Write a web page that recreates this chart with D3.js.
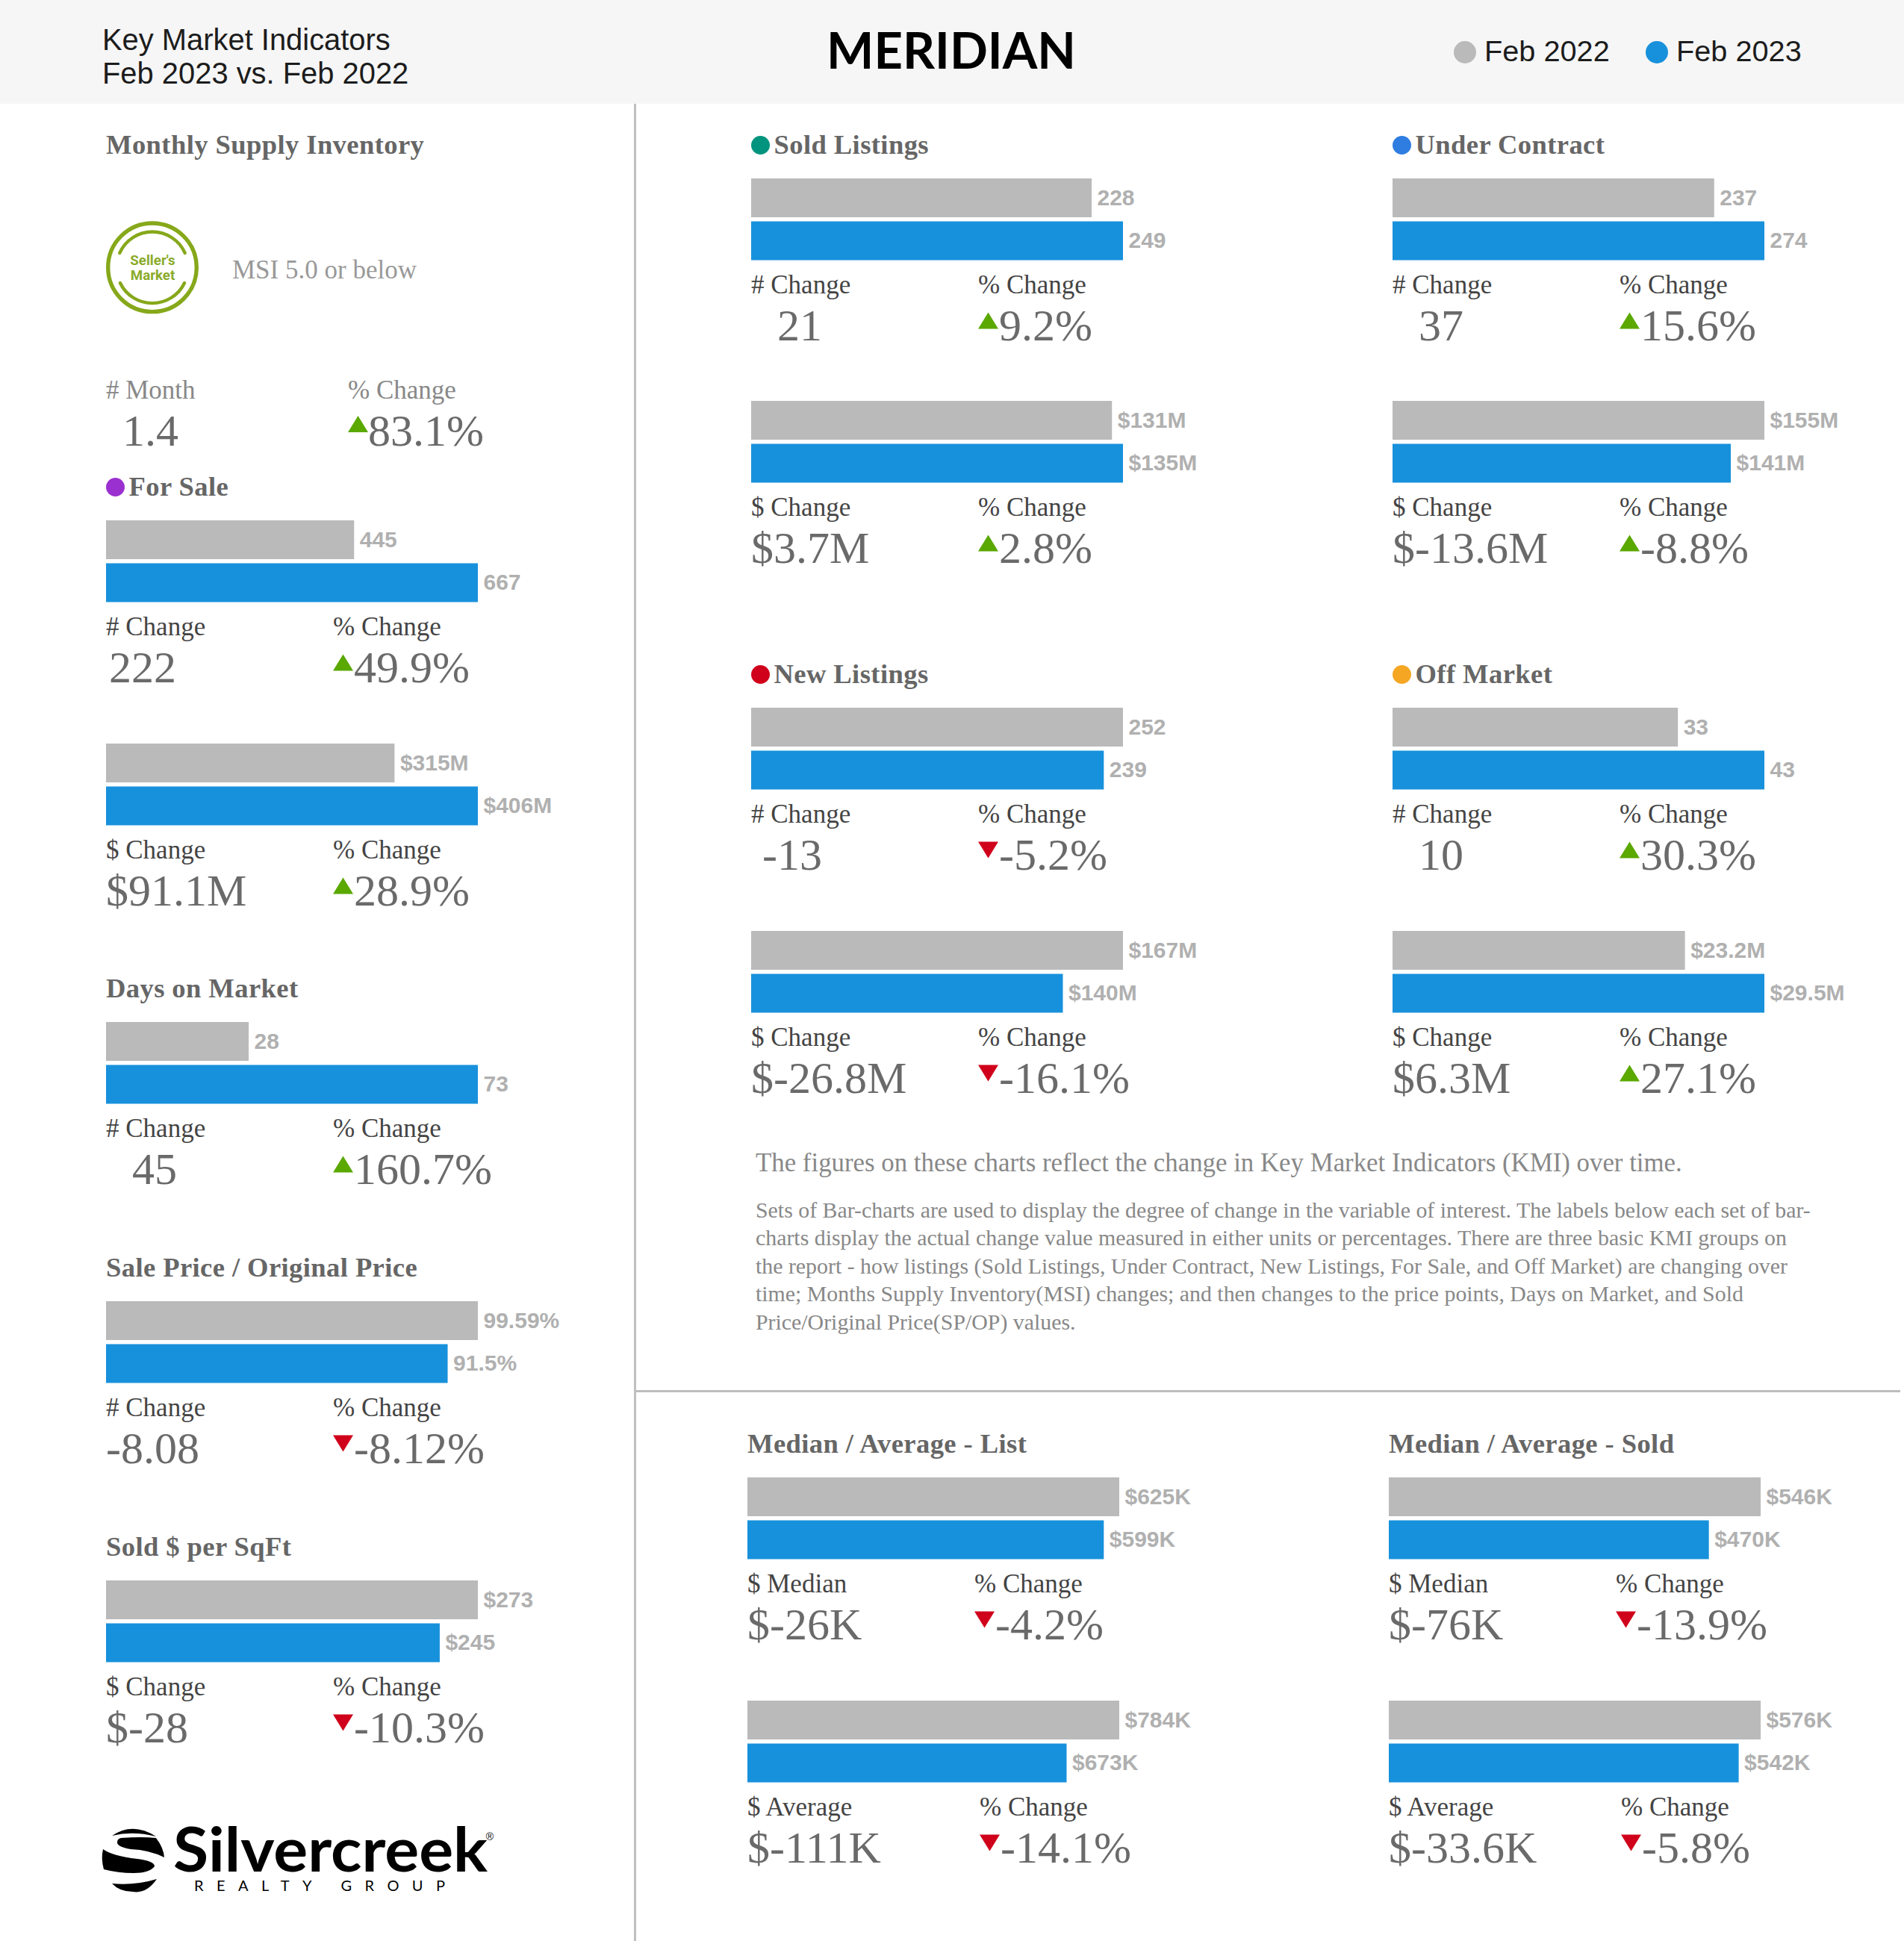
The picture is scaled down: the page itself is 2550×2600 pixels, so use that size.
<!DOCTYPE html>
<html><head><meta charset="utf-8">
<script src="https://cdn.jsdelivr.net/npm/d3@7"></script>
<style>html,body{margin:0;padding:0;background:#fff}svg{display:block}text{white-space:pre}</style>
</head><body><svg id="c" width="2550" height="2600"></svg>
<script>
// ---------- data ----------
const titles   = ["For Sale","","Days on Market","Sale Price / Original Price","Sold $ per SqFt","Sold Listings","","Under Contract","","New Listings","","Off Market","","Median / Average - List","","Median / Average - Sold",""];
const prior    = [445,315,28,99.59,273,228,131,237,155,252,167,33,23.2,625,784,546,576];
const current  = [667,406,73,91.5,245,249,135,274,141,239,140,43,29.5,599,673,470,542];
const priorLabels   = ["445","$315M","28","99.59%","$273","228","$131M","237","$155M","252","$167M","33","$23.2M","$625K","$784K","$546K","$576K"];
const currentLabels = ["667","$406M","73","91.5%","$245","249","$135M","274","$141M","239","$140M","43","$29.5M","$599K","$673K","$470K","$542K"];
const changeHeads  = ["# Change","$ Change","# Change","# Change","$ Change","# Change","$ Change","# Change","$ Change","# Change","$ Change","# Change","$ Change","$ Median","$ Average","$ Median","$ Average"];
const changeValues = ["222","$91.1M","45","-8.08","$-28","21","$3.7M","37","$-13.6M","-13","$-26.8M","10","$6.3M","$-26K","$-111K","$-76K","$-33.6K"];
const pctValues    = ["49.9%","28.9%","160.7%","-8.12%","-10.3%","9.2%","2.8%","15.6%","-8.8%","-5.2%","-16.1%","30.3%","27.1%","-4.2%","-14.1%","-13.9%","-5.8%"];
const arrowDirs    = ["up","up","up","down","down","up","up","up","up","down","down","up","up","down","down","down","down"];
const legendNames  = ["Feb 2022","Feb 2023"];
const headerLines  = ["Key Market Indicators","Feb 2023 vs. Feb 2022"];
const msi = {title:"Monthly Supply Inventory",badge:["Seller's","Market"],note:"MSI 5.0 or below",head:"# Month",value:"1.4",pctHead:"% Change",pct:"83.1%"};
const noteHead = "The figures on these charts reflect the change in Key Market Indicators (KMI) over time.";
const noteLines = ["Sets of Bar-charts are used to display the degree of change in the variable of interest. The labels below each set of bar-",
"charts display the actual change value measured in either units or percentages. There are three basic KMI groups on",
"the report - how listings (Sold Listings, Under Contract, New Listings, For Sale, and Off Market) are changing over",
"time; Months Supply Inventory(MSI) changes; and then changes to the price points, Days on Market, and Sold",
"Price/Original Price(SP/OP) values."];

// ---------- layout / style ----------
const panelX = [142,142,142,142,142,1006,1006,1865,1865,1006,1006,1865,1865,1001,1001,1860,1860];
const panelY = [697,996,1369,1743,2117,239,537,239,537,948,1247,948,1247,1979,2278,1979,2278];
const valueDx = [4,0,35,0,0,35,0,35,0,15,0,35,0,0,0,0,0];
const pctDx   = [304,304,304,304,304,304,304,304,304,304,304,304,304,304,311,304,311];
const dotColors = {"For Sale":"#9b30d0","Sold Listings":"#00947e","Under Contract":"#2f7de1","New Listings":"#d0021b","Off Market":"#f5a623"};
const GRAY="#bababa",BLUE="#1891dc",UP="#5aa800",DOWN="#d0021b";
const SERIF="'Liberation Serif'",SANS="'Liberation Sans'";
const BAR_MAX=498, BAR_BLOCK=109.5;

const svg=d3.select("#c");
const T=(x,y,s,size,fill,o={})=>svg.append("text").attr("x",x).attr("y",y).text(s)
  .attr("font-family",o.family||SERIF).attr("font-size",size).attr("fill",fill)
  .attr("font-weight",o.weight||"normal").attr("text-anchor",o.anchor||"start")
  .attr("letter-spacing",o.ls||null);
const tri=(x,y,dir)=>svg.append("path").attr("fill",dir==="up"?UP:DOWN)
  .attr("d",dir==="up"?`M${x},${y+22}L${x+13.5},${y}L${x+27},${y+22}Z`:`M${x},${y}L${x+27},${y}L${x+13.5},${y+22}Z`);

// header
svg.append("rect").attr("width",2550).attr("height",139).attr("fill","#f6f6f6");
headerLines.forEach((s,i)=>T(137,66.5+i*45,s,39.9,"#1c1c1c",{family:SANS}));
T(1274,92,"MERIDIAN",67,"#000",{family:"Lato",weight:"bold",anchor:"middle"});
const legX=[1962,2219];
legendNames.forEach((s,i)=>{
  svg.append("circle").attr("cx",legX[i]).attr("cy",70).attr("r",15).attr("fill",[GRAY,BLUE][i]);
  T(legX[i]+26,82,s,39.7,"#1c1c1c",{family:SANS});
});
// rules
svg.append("rect").attr("x",849).attr("y",139).attr("width",3).attr("height",2461).attr("fill","#c0c0c0");
svg.append("rect").attr("x",852).attr("y",1862).attr("width",1693).attr("height",3).attr("fill","#bdbdbd");

// MSI block
T(142,206,msi.title,36.6,"#666",{weight:"bold",ls:"0.4"});
const bc=[204,358.3], olive="#86a81a";
svg.append("circle").attr("cx",bc[0]).attr("cy",bc[1]).attr("r",59.3).attr("fill","none").attr("stroke",olive).attr("stroke-width",5.4);
const arcG=d3.arc().innerRadius(45.6).outerRadius(50).cornerRadius(2.2);
[[-1.2,1.2],[Math.PI-1.17,Math.PI+1.17]].forEach(a=>svg.append("path").attr("transform",`translate(${bc})`).attr("fill",olive)
  .attr("d",arcG({startAngle:a[0],endAngle:a[1]})));
msi.badge.forEach((s,i)=>T(204.5,355+i*19.5,s,18.7,"#8bab2b",{family:"Roboto",weight:"bold",anchor:"middle"}));
T(311,373,msi.note,35,"#999");
T(142,534,msi.head,35,"#888");
T(466,534,msi.pctHead,35,"#888");
T(164,596.5,msi.value,60,"#6a6a6a");
tri(466,557,"up");
T(493,596.5,msi.pct,60,"#6a6a6a");

// panels
const bandY=d3.scaleBand().domain(legendNames).range([0,BAR_BLOCK]).paddingInner(5.5/57.5).paddingOuter(0);
prior.forEach((p,i)=>{
  const x0=panelX[i], y0=panelY[i];
  const x=d3.scaleLinear().domain([0,Math.max(p,current[i])]).range([0,BAR_MAX]);
  const g=svg.append("g").attr("transform",`translate(${x0},${y0})`);
  const rows=[{k:legendNames[0],v:p,l:priorLabels[i],c:GRAY},{k:legendNames[1],v:current[i],l:currentLabels[i],c:BLUE}];
  g.selectAll("rect").data(rows).join("rect").attr("x",0).attr("y",d=>bandY(d.k))
    .attr("width",d=>x(d.v)).attr("height",bandY.bandwidth()).attr("fill",d=>d.c);
  g.selectAll("text").data(rows).join("text").attr("x",d=>x(d.v)+7.5).attr("y",d=>bandY(d.k)+bandY.bandwidth()/2+9.5)
    .attr("font-family",SANS).attr("font-weight","bold").attr("font-size",30).attr("fill","#b0b0b0").text(d=>d.l);
  if(titles[i]){
    const dot=dotColors[titles[i]];
    if(dot) svg.append("circle").attr("cx",x0+12.5).attr("cy",y0-44.5).attr("r",12.5).attr("fill",dot);
    T(dot?x0+30.5:x0,y0-33.5,titles[i],36.6,"#666",{weight:"bold",ls:"0.4"});
  }
  T(x0,y0+153.5,changeHeads[i],35,"#444");
  T(x0+pctDx[i],y0+153.5,"% Change",35,"#444");
  T(x0+valueDx[i],y0+216.5,changeValues[i],60,"#6a6a6a");
  tri(x0+pctDx[i],y0+179.5,arrowDirs[i]);
  T(x0+pctDx[i]+28,y0+216.5,pctValues[i],60,"#6a6a6a");
});

// notes
T(1012,1569,noteHead,34.85,"#888");
noteLines.forEach((s,i)=>T(1012,1631+i*37.4,s,29.85,"#888"));

// logo
const K="#000";
[ "M150,2459Q178,2440 209,2460Q178,2452 150,2459Z",
  "M162,2462Q190,2460 209,2462Q219,2475 220,2488Q200,2478 175,2477Q157,2474 157,2468Q157,2463 162,2462Z",
  "M138,2477Q150,2486 184,2490Q207,2493 207,2500Q200,2509 179,2509Q158,2509 139,2504Q135,2490 138,2477Z",
  "M150,2523Q180,2526 210,2517Q196,2537 178,2534Q160,2534 150,2523Z"
].forEach(d=>svg.append("path").attr("d",d).attr("fill",K));
T(232,2507,"Silvercreek",82,K,{family:"Lato",weight:"bold"}).attr("textLength",421).attr("lengthAdjust","spacingAndGlyphs");
T(260,2533,"REALTY GROUP",20,K,{family:"Lato"}).attr("textLength",336);
T(656,2465,"®",14,K,{family:SANS,anchor:"middle"});
</script></body></html>
